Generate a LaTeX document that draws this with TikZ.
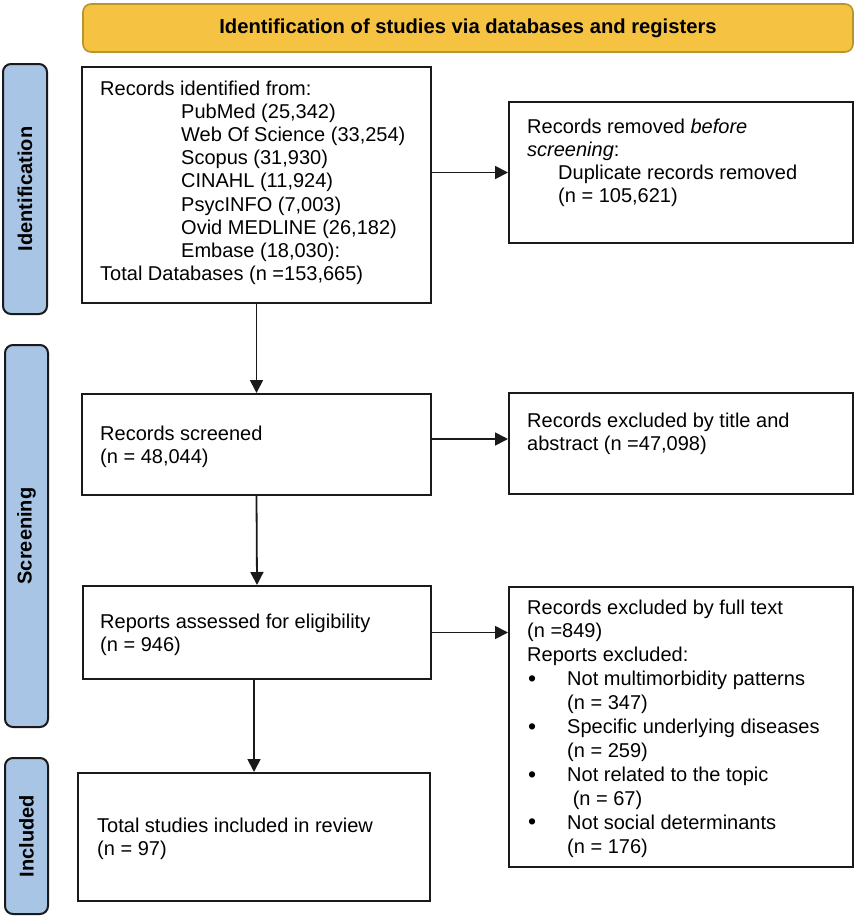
\documentclass[tikz,border=0pt]{standalone}
\usepackage{fontspec}
\setmainfont{Liberation Sans}
\usepackage{graphicx}
\usetikzlibrary{arrows.meta}
\definecolor{bannerfill}{HTML}{F5C242}
\definecolor{bannerline}{HTML}{B8962E}
\definecolor{labfill}{HTML}{A9C5E6}
\definecolor{boxline}{HTML}{1A1A1A}
\tikzset{
  box/.style={draw=boxline, line width=2pt, rectangle, inner sep=0pt, fill=white},
  banner/.style={draw=bannerline, fill=bannerfill, line width=1.6pt, rounded corners=8pt, inner sep=0pt,
    font=\fontsize{20.2}{24}\selectfont\bfseries},
  phase/.style={draw=boxline, fill=labfill, line width=2pt, rounded corners=8pt, inner sep=0pt,
    font=\fontsize{20}{24}\selectfont\bfseries},
  txt/.style={anchor=base west, inner sep=0pt, align=left, font=\fontsize{20}{23.2}\selectfont},
  txtw/.style={anchor=base west, inner sep=0pt, align=left, font=\fontsize{20}{23.9}\selectfont},
  arr/.style={line width=1.8pt, draw=boxline, -{Triangle[length=13pt,width=13pt]}}
}
\newcommand{\blt}{\makebox[40pt][l]{\hspace*{1pt}\fontsize{23}{23.9}\selectfont\raisebox{-0.8pt}{•}}}
\begin{document}
\begin{tikzpicture}[x=1pt,y=-1pt]
\useasboundingbox[fill=white] (0,0) rectangle (857,918);
% banner
\node[banner, minimum width=770pt, minimum height=48pt] (ban) at (468,28) {Identification of studies via databases and registers};
% phase labels
\node[phase, minimum width=44pt, minimum height=250pt] (lid) at (25,189) {\rotatebox{90}{Identification}};
\node[phase, minimum width=43pt, minimum height=382pt] (lsc) at (26.5,536) {\rotatebox{90}{Screening}};
\node[phase, minimum width=43pt, minimum height=156pt] (lin) at (26.5,836) {\rotatebox{90}{Included}};
% boxes
\node[box, minimum width=349pt, minimum height=236pt] (id) at (256.5,185) {};
\node[box, minimum width=344pt, minimum height=141pt] (rem) at (681,172.5) {};
\node[box, minimum width=349pt, minimum height=101pt] (scr) at (256.5,444.5) {};
\node[box, minimum width=344pt, minimum height=101pt] (ext) at (681,443.5) {};
\node[box, minimum width=348pt, minimum height=93pt] (rep) at (257,632.5) {};
\node[box, minimum width=344pt, minimum height=280pt] (ful) at (681,727) {};
\node[box, minimum width=352pt, minimum height=128pt] (tot) at (254,837) {};
% texts (anchored at the baseline of their last line)
\node[txt] (idt) at (100,280.6) {Records identified from:\\
\hspace*{81pt}PubMed (25,342)\\
\hspace*{81pt}Web Of Science (33,254)\\
\hspace*{81pt}Scopus (31,930)\\
\hspace*{81pt}CINAHL (11,924)\\
\hspace*{81pt}PsycINFO (7,003)\\
\hspace*{81pt}Ovid MEDLINE (26,182)\\
\hspace*{81pt}Embase (18,030):\\
Total Databases (n =153,665)};
\node[txt] (remt) at (527,202.6) {Records removed \textit{before}\\
\textit{screening}:\\
\hspace*{31pt}Duplicate records removed\\
\hspace*{31pt}(n = 105,621)};
\node[txt] (scrt) at (100,463.2) {Records screened\\(n = 48,044)};
\node[txt] (extt) at (527,450.2) {Records excluded by title and\\abstract (n =47,098)};
\node[txt] (rept) at (100,651.2) {Reports assessed for eligibility\\(n = 946)};
\node[txtw] (fult) at (527,853) {Records excluded by full text\\
(n =849)\\
Reports excluded:\\
\blt Not multimorbidity patterns\\
\hspace*{40pt}(n = 347)\\
\blt Specific underlying diseases\\
\hspace*{40pt}(n = 259)\\
\blt Not related to the topic\\
\hspace*{40pt}\ (n = 67)\\
\blt Not social determinants\\
\hspace*{40pt}(n = 176)};
\node[txt] (tott) at (97,855.2) {Total studies included in review\\(n = 97)};
% connectors
\draw[arr] (id.south) -- (scr.north);
\draw[arr] (scr.south) -- (rep.north);
\draw[arr] (rep.south -| tot.north) -- (tot.north);
\draw[arr] (rem.west -| id.east) -- (rem.west);
\draw[arr] ([yshift=5.5pt]scr.east) -- ([yshift=5.5pt]scr.east -| ext.west);
\draw[arr] (rep.east) -- (rep.east -| ful.west);
\end{tikzpicture}
\end{document}
